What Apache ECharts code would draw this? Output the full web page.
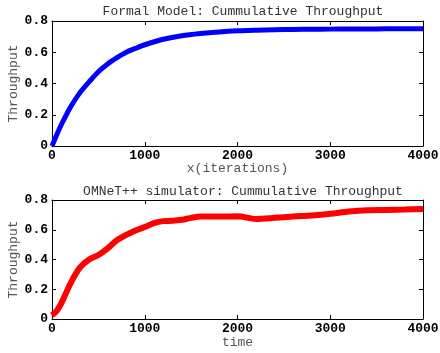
<!DOCTYPE html>
<html>
<head>
<meta charset="utf-8">
<script src="https://cdn.jsdelivr.net/npm/echarts@6/dist/echarts.min.js"></script>
<style>
  html, body { margin: 0; padding: 0; background: #fff; }
  #chart { width: 440px; height: 353px; }
</style>
</head>
<body>
<div id="chart"></div>
<script>
// Formal model: cumulative throughput vs iterations
const modelX = [0, 50, 100, 150, 200, 300, 400, 500, 600, 700, 800, 900, 1000, 1200, 1400, 1600, 1800, 2000, 2200, 2400, 2600, 2800, 3000, 3200, 3400, 3600, 3800, 4000];
const modelY = [0, 0.071, 0.136, 0.195, 0.25, 0.34, 0.41, 0.475, 0.525, 0.565, 0.60, 0.625, 0.648, 0.683, 0.706, 0.72, 0.73, 0.737, 0.741, 0.744, 0.746, 0.747, 0.748, 0.749, 0.749, 0.75, 0.75, 0.75];

// OMNeT++ simulator: cumulative throughput vs time
const simX = [0, 50, 100, 200, 300, 400, 500, 600, 700, 800, 900, 1000, 1100, 1200, 1300, 1400, 1500, 1600, 1800, 2000, 2200, 2400, 2600, 2800, 3000, 3200, 3400, 3600, 3800, 4000];
const simY = [0.025, 0.055, 0.105, 0.24, 0.345, 0.40, 0.43, 0.475, 0.53, 0.565, 0.595, 0.618, 0.645, 0.658, 0.66, 0.667, 0.68, 0.689, 0.689, 0.69, 0.673, 0.68, 0.689, 0.696, 0.707, 0.722, 0.731, 0.733, 0.736, 0.74];

const xTicks = [0, 1000, 2000, 3000, 4000];
const yTicks = [0, 0.2, 0.4, 0.6, 0.8];

const FONT = '"Liberation Mono", "DejaVu Sans Mono", monospace';

function pairs(xs, ys) { return xs.map((x, i) => [x, ys[i]]); }

function xAxisFor(gridIndex, name, nameGap, pos, showLabels) {
  return {
    type: 'value', gridIndex, position: pos,
    min: xTicks[0], max: xTicks[xTicks.length - 1], interval: xTicks[1] - xTicks[0],
    name: showLabels ? name : '', nameLocation: 'middle', nameGap, nameMoveOverlap: false,
    nameTextStyle: { fontFamily: FONT, fontSize: 13, color: '#555' },
    axisLine: { show: true, onZero: false, lineStyle: { color: '#000', width: 1 } },
    axisTick: { show: true, inside: true, length: 4, lineStyle: { color: '#000' } },
    axisLabel: {
      show: showLabels, margin: 3, fontFamily: FONT, fontSize: 13, fontWeight: 'bold', color: '#000',
      formatter: v => String(v)
    },
    splitLine: { show: false }
  };
}

function yAxisFor(gridIndex, pos, showLabels) {
  return {
    type: 'value', gridIndex, position: pos,
    min: yTicks[0], max: yTicks[yTicks.length - 1], interval: 0.2,
    name: showLabels ? 'Throughput' : '', nameLocation: 'middle', nameGap: 32, nameMoveOverlap: false,
    nameTextStyle: { fontFamily: FONT, fontSize: 13, color: '#555' },
    axisLine: { show: true, onZero: false, lineStyle: { color: '#000', width: 1 } },
    axisTick: { show: true, inside: true, length: 4, lineStyle: { color: '#000' } },
    axisLabel: {
      show: showLabels, margin: 4, fontFamily: FONT, fontSize: 13, fontWeight: 'bold', color: '#000',
      formatter: v => (v === 0 ? '0' : v.toFixed(1))
    },
    splitLine: { show: false }
  };
}

const chart = echarts.init(document.getElementById('chart'), null, { renderer: 'canvas' });
chart.setOption({
  animation: false,
  backgroundColor: '#fff',
  title: [
    { text: 'Formal Model: Cummulative Throughput', left: 238, top: 0, textAlign: 'center',
      textStyle: { fontFamily: FONT, fontSize: 13, fontWeight: 'normal', color: '#333' } },
    { text: 'OMNeT++ simulator: Cummulative Throughput', left: 238, top: 180, textAlign: 'center',
      textStyle: { fontFamily: FONT, fontSize: 13, fontWeight: 'normal', color: '#333' } }
  ],
  grid: [
    { left: 52, top: 21, width: 371, height: 125, containLabel: false, outerBoundsMode: 'none' },
    { left: 52, top: 200, width: 371, height: 119, containLabel: false, outerBoundsMode: 'none' }
  ],
  xAxis: [
    xAxisFor(0, 'x(iterations)', 16, 'bottom', true),
    xAxisFor(0, '', 0, 'top', false),
    xAxisFor(1, 'time', 17, 'bottom', true),
    xAxisFor(1, '', 0, 'top', false)
  ],
  yAxis: [
    yAxisFor(0, 'left', true),
    yAxisFor(0, 'right', false),
    yAxisFor(1, 'left', true),
    yAxisFor(1, 'right', false)
  ],
  series: [
    { type: 'line', xAxisIndex: 0, yAxisIndex: 0, data: pairs(modelX, modelY),
      smooth: 0.3, showSymbol: false, lineStyle: { color: '#0000ff', width: 5 } },
    { type: 'line', xAxisIndex: 2, yAxisIndex: 2, data: pairs(simX, simY),
      smooth: 0.3, showSymbol: false, lineStyle: { color: '#ff0000', width: 6 } }
  ]
});
</script>
</body>
</html>
